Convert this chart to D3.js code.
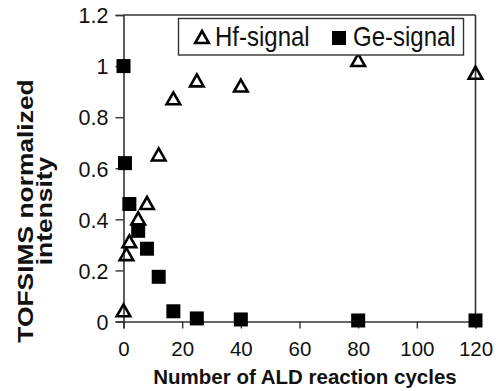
<!DOCTYPE html>
<html><head><meta charset="utf-8">
<script src="https://cdn.jsdelivr.net/npm/d3@7/dist/d3.min.js"></script>
<style>body{margin:0;background:#fff;} svg{display:block;font-family:"Liberation Sans",Arial,sans-serif;}</style>
</head><body>
<svg id="c" width="498" height="391"></svg>
<script>
const hfX = [0, 1, 2, 5, 8, 12, 17, 25, 40, 80, 120];
const hfY = [0.04, 0.26, 0.31, 0.40, 0.46, 0.65, 0.87, 0.94, 0.92, 1.02, 0.97];
const geX = [0, 0.5, 2, 5, 8, 12, 17, 25, 40, 80, 120];
const geY = [1.0, 0.62, 0.46, 0.355, 0.285, 0.175, 0.04, 0.012, 0.008, 0.004, 0.004];
const xTicks = [0, 20, 40, 60, 80, 100, 120];
const yTicks = [0, 0.2, 0.4, 0.6, 0.8, 1, 1.2];
const seriesNames = ["Hf-signal", "Ge-signal"];

const svg = d3.select("#c");
const x = d3.scaleLinear().domain([0, 120]).range([123.5, 475.5]);
const y = d3.scaleLinear().domain([0, 1.2]).range([321.5, 15]);
const axisColor = "#333";

// frame top/right
svg.append("line").attr("x1", x(0)).attr("x2", x(120)).attr("y1", y(1.2)).attr("y2", y(1.2))
  .attr("stroke", axisColor).attr("stroke-width", 1.6);
svg.append("line").attr("x1", x(120)).attr("x2", x(120)).attr("y1", y(1.2)).attr("y2", y(0))
  .attr("stroke", axisColor).attr("stroke-width", 1.6);

const xAxis = svg.append("g").attr("transform", `translate(0,${y(0)})`)
  .call(d3.axisBottom(x).tickValues(xTicks).tickSize(7).tickPadding(13).tickFormat(d3.format("d")));
const yAxis = svg.append("g").attr("transform", `translate(${x(0)},0)`)
  .call(d3.axisLeft(y).tickValues(yTicks).tickSize(8).tickPadding(7).tickFormat(d => d === 0 || d === 1 ? String(d) : d3.format(".1f")(d)));
[xAxis, yAxis].forEach(g => {
  g.select(".domain").attr("stroke", axisColor).attr("stroke-width", 1.6);
  g.selectAll(".tick line").attr("stroke", axisColor).attr("stroke-width", 1.4);
  g.selectAll(".tick text").attr("fill", "#111").style("font-size", "20.5px")
    .style("font-family", '"Liberation Sans", Arial, sans-serif');
});
yAxis.selectAll(".tick text").style("font-size", "21.5px").attr("dy", "0.36em");
xAxis.selectAll(".tick text").attr("dy", "0.71em");

// squares (Ge)
const sq = 14;
svg.append("g").selectAll("rect").data(geX.map((d, i) => [d, geY[i]])).join("rect")
  .attr("x", d => x(d[0]) - sq / 2).attr("y", d => y(d[1]) - sq / 2)
  .attr("width", sq).attr("height", sq).attr("fill", "#000");

// triangles (Hf)
const tri = "M0,-7 L6.8,5 L-6.8,5 Z";
svg.append("g").selectAll("path").data(hfX.map((d, i) => [d, hfY[i]])).join("path")
  .attr("d", tri).attr("transform", d => `translate(${x(d[0])},${y(d[1])})`)
  .attr("fill", "none").attr("stroke", "#000").attr("stroke-width", 2.6).attr("stroke-linejoin", "miter");

// legend
const lg = svg.append("g");
lg.append("rect").attr("x", 178.5).attr("y", 18.5).attr("width", 285).attr("height", 36.5)
  .attr("fill", "#fff").attr("stroke", "#333").attr("stroke-width", 1.4);
lg.append("path").attr("d", tri).attr("transform", "translate(202,38)")
  .attr("fill", "none").attr("stroke", "#000").attr("stroke-width", 2.6);
lg.append("text").attr("x", 215).attr("y", 45.5).text(seriesNames[0])
  .style("font-size", "24px").attr("fill", "#111").attr("transform", "translate(0,-6.8) scale(1,1.15)");
lg.append("rect").attr("x", 339 - 7).attr("y", 38 - 7).attr("width", 14).attr("height", 14).attr("fill", "#000");
lg.append("text").attr("x", 353).attr("y", 45.5).text(seriesNames[1])
  .style("font-size", "24px").attr("fill", "#111").attr("transform", "translate(0,-6.8) scale(1,1.15)");

// axis titles
svg.append("text").attr("x", 305).attr("y", 384).attr("text-anchor", "middle")
  .style("font-size", "20.5px").style("font-weight", "bold").attr("fill", "#111")
  .text("Number of ALD reaction cycles");
const yt = svg.append("g").attr("transform", "translate(0,211) rotate(-90) scale(1.2,1)");
yt.append("text").attr("x", 0).attr("y", 33).attr("text-anchor", "middle")
  .style("font-size", "22px").style("font-weight", "bold").attr("fill", "#111").text("TOFSIMS normalized");
yt.append("text").attr("x", 0).attr("y", 52).attr("text-anchor", "middle")
  .style("font-size", "22px").style("font-weight", "bold").attr("fill", "#111").text("intensity");
</script>
</body></html>
